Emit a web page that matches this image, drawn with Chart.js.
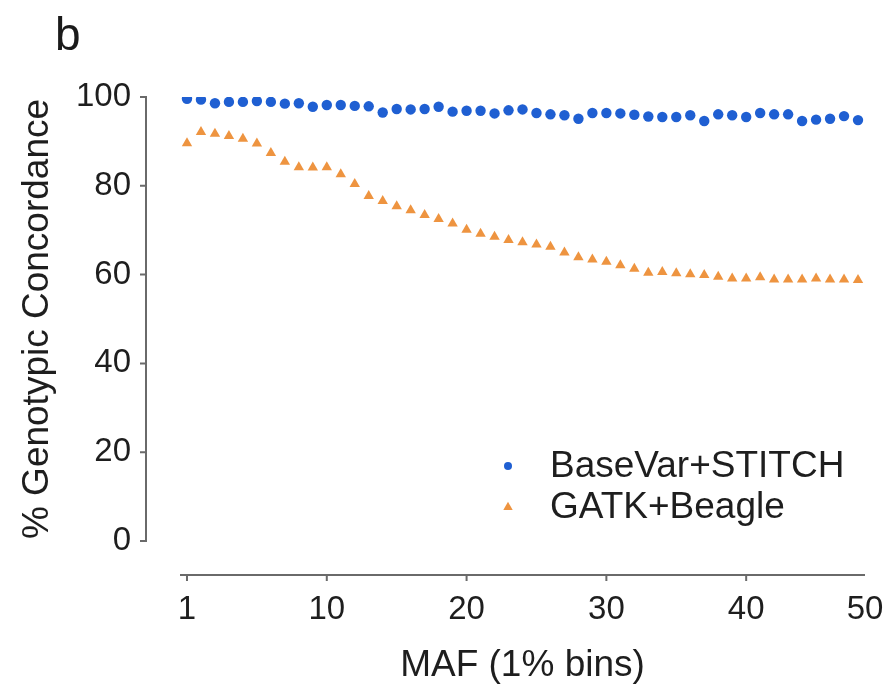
<!DOCTYPE html>
<html>
<head>
<meta charset="utf-8">
<script src="https://cdn.jsdelivr.net/npm/chart.js@4.4.1/dist/chart.umd.min.js"></script>
<style>
  html, body { margin: 0; padding: 0; background: #ffffff; }
  #wrap { position: relative; width: 893px; height: 694px; }
  #panel { position: absolute; left: 55px; top: 11px; font-family: "Liberation Sans", Arial, sans-serif; font-size: 46px; color: #1a1a1a; line-height: 1; }
</style>
</head>
<body>
<div id="wrap">
  <canvas id="c" width="893" height="694"></canvas>
  <div id="panel">b</div>
</div>
<script>
// MAF bins (1% bins)
const bins = [1,2,3,4,5,6,7,8,9,10,11,12,13,14,15,16,17,18,19,20,21,22,23,24,25,26,27,28,29,30,31,32,33,34,35,36,37,38,39,40,41,42,43,44,45,46,47,48,49];
// % genotypic concordance
const baseVarStitch = [99.6,99.4,98.6,98.9,98.9,99.1,98.9,98.5,98.6,97.8,98.2,98.2,98.0,97.9,96.5,97.3,97.2,97.3,97.8,96.7,96.9,96.9,96.3,97.0,97.2,96.4,96.1,95.9,95.1,96.4,96.4,96.3,96.0,95.6,95.5,95.5,95.9,94.6,96.1,95.9,95.5,96.4,96.1,96.1,94.6,94.9,95.1,95.7,94.8];
const gatkBeagle = [89.6,92.1,91.7,91.2,90.6,89.5,87.4,85.4,84.2,84.1,84.2,82.6,80.4,77.7,76.6,75.4,74.5,73.4,72.5,71.5,70.1,69.2,68.5,67.8,67.3,66.8,66.3,65.0,63.9,63.4,62.9,62.1,61.3,60.4,60.6,60.3,60.1,59.9,59.5,59.1,59.1,59.4,58.9,58.9,58.9,59.1,58.9,58.9,58.8];
const seriesNames = ['BaseVar+STITCH', 'GATK+Beagle'];
// x tick positions (bin scale) and their labels as printed
const xTickValues = [1, 11, 21, 31, 41, 49.5];
const xTickLabels = ['1', '10', '20', '30', '40', '50'];
const yTickValues = [0, 20, 40, 60, 80, 100];

const BLUE = '#1f5fd2';
const ORANGE = '#ee9440';
const AXIS = '#6a6a6a';
const TEXT = '#1e1e1e';
const FONT = '"Liberation Sans", Arial, sans-serif';

Chart.defaults.font.family = FONT;
Chart.defaults.color = TEXT;

const toPoints = vals => vals.map((v, i) => ({ x: bins[i], y: v }));

const offsetAxes = {
  id: 'offsetAxes',
  afterDraw(chart) {
    const { ctx, chartArea, scales } = chart;
    const xs = scales.x, ys = scales.y;
    const yGap = 34, xGap = 34, tick = 6;
    ctx.save();
    ctx.strokeStyle = AXIS;
    ctx.lineWidth = 2;
    ctx.lineCap = 'butt';
    // y axis
    const ax = chartArea.left - yGap;
    ctx.beginPath();
    ctx.moveTo(ax, ys.getPixelForValue(yTickValues[0]) + 1);
    ctx.lineTo(ax, ys.getPixelForValue(yTickValues[yTickValues.length - 1]) - 1);
    yTickValues.forEach(v => {
      const py = ys.getPixelForValue(v);
      ctx.moveTo(ax - tick, py);
      ctx.lineTo(ax, py);
    });
    ctx.stroke();
    // x axis
    const ay = chartArea.bottom + xGap;
    ctx.beginPath();
    ctx.moveTo(chartArea.left, ay);
    ctx.lineTo(chartArea.right, ay);
    xTickValues.slice(0, -1).forEach(v => {
      const px = xs.getPixelForValue(v);
      ctx.moveTo(px, ay);
      ctx.lineTo(px, ay + tick);
    });
    ctx.stroke();
    ctx.restore();
  }
};

const insideLegend = {
  id: 'insideLegend',
  afterDraw(chart) {
    const { ctx } = chart;
    const mx = 508, tx = 550;
    const items = [
      { y: 466, ds: chart.data.datasets[0], r: 4 },
      { y: 507, ds: chart.data.datasets[1], r: 4 }
    ];
    ctx.save();
    ctx.font = '37px ' + FONT;
    ctx.textBaseline = 'middle';
    ctx.textAlign = 'left';
    items.forEach(it => {
      ctx.fillStyle = it.ds.backgroundColor;
      ctx.beginPath();
      if (it.ds.pointStyle === 'circle') {
        ctx.arc(mx, it.y, it.r, 0, Math.PI * 2);
      } else {
        const s = it.r * 1.3;
        ctx.moveTo(mx, it.y - s);
        ctx.lineTo(mx + s * 0.9, it.y + s * 0.6);
        ctx.lineTo(mx - s * 0.9, it.y + s * 0.6);
        ctx.closePath();
      }
      ctx.fill();
      ctx.fillStyle = TEXT;
      ctx.fillText(it.ds.label, tx, it.y + 1);
    });
    ctx.restore();
  }
};

new Chart(document.getElementById('c'), {
  type: 'scatter',
  data: {
    datasets: [
      {
        label: seriesNames[0],
        data: toPoints(baseVarStitch),
        pointStyle: 'circle',
        backgroundColor: BLUE,
        borderColor: BLUE,
        borderWidth: 0,
        pointRadius: 5.2,
        pointHoverRadius: 5.2
      },
      {
        label: seriesNames[1],
        data: toPoints(gatkBeagle),
        pointStyle: 'triangle',
        backgroundColor: ORANGE,
        borderColor: ORANGE,
        borderWidth: 0,
        pointRadius: 6,
        pointHoverRadius: 6
      }
    ]
  },
  options: {
    responsive: false,
    animation: false,
    devicePixelRatio: 1,
    layout: { padding: { left: 10, right: 28, top: 97, bottom: 0 } },
    plugins: {
      legend: { display: false },
      tooltip: { enabled: false },
      title: { display: false }
    },
    scales: {
      x: {
        type: 'linear',
        min: 0.5,
        max: 49.5,
        afterBuildTicks: scale => { scale.ticks = xTickValues.map(v => ({ value: v })); },
        afterFit: scale => { scale.height = 153; scale.paddingLeft = 0; scale.paddingRight = 0; },
        grid: { display: false, drawTicks: false },
        border: { display: false },
        ticks: {
          autoSkip: false,
          maxRotation: 0,
          minRotation: 0,
          padding: 49,
          font: { size: 33 },
          color: TEXT,
          callback: (v) => xTickLabels[xTickValues.indexOf(v)]
        },
        title: {
          display: true,
          text: 'MAF (1% bins)',
          font: { size: 37 },
          color: TEXT,
          padding: { top: 14, bottom: 6 }
        }
      },
      y: {
        min: 0,
        max: 100,
        afterBuildTicks: scale => { scale.ticks = yTickValues.map(v => ({ value: v })); },
        afterFit: scale => { scale.width = 170; scale.paddingTop = 0; scale.paddingBottom = 0; },
        grid: { display: false, drawTicks: false },
        border: { display: false },
        ticks: {
          padding: 49,
          font: { size: 33 },
          color: TEXT
        },
        title: {
          display: true,
          text: '% Genotypic Concordance',
          font: { size: 37 },
          color: TEXT,
          padding: { top: 6, bottom: 17 }
        }
      }
    }
  },
  plugins: [offsetAxes, insideLegend]
});
</script>
</body>
</html>
